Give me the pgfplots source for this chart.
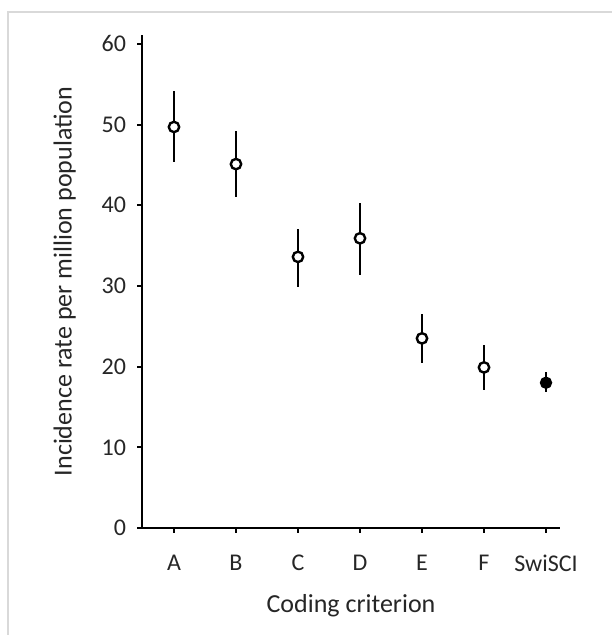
\documentclass[border=0pt]{standalone}
\usepackage{fontspec}
\setmainfont{Carlito}
\usepackage{pgfplots}
\pgfplotsset{compat=1.18}

\begin{document}
\begin{tikzpicture}[x=1pt,y=1pt]
% page frame: 612x635 px at 0.5pt per px
\path[use as bounding box] (0,0) rectangle (306,317.5);
\draw[gray!30, line width=1pt] (4,0) -- (4,311.5) -- (306,311.5);

\begin{axis}[
  at={(71pt,53.5pt)}, anchor=south west,
  scale only axis,
  width=209pt, height=246.5pt,
  xmin=-0.516, xmax=6.226,
  ymin=0, ymax=61.1,
  axis x line*=bottom, axis y line*=left,
  axis line style={line width=1.2pt},
  xtick={0,...,6},
  xticklabels={A,B,C,D,E,F,SwiSCI},
  ytick={0,10,...,60},
  tick align=outside,
  major tick length=2.5pt,
  tick style={line width=1pt, black},
  ticklabel style={font=\fontsize{12}{14}\selectfont, text=black!85},
  xticklabel style={yshift=-7.5pt},
  yticklabel style={xshift=-2pt},
  /pgf/number format/assume math mode=true,
  xlabel={Coding criterion},
  ylabel={Incidence rate per million population},
  label style={font=\fontsize{13}{15}\selectfont, text=black!85},
  xlabel style={yshift=-4.5pt},
  ylabel style={yshift=6pt},
  clip=false,
]

% confidence intervals
\addplot[draw=none, mark=none,
  error bars/.cd, y dir=both, y explicit, error mark=none,
  error bar style={line width=1pt, black}]
  coordinates {
  (0,49.7) += (0,4.4) -= (0,4.4)
  (1,45.1) += (0,4.1) -= (0,4.1)
  (2,33.6) += (0,3.5) -= (0,3.7)
  (3,35.9) += (0,4.4) -= (0,4.5)
  (4,23.5) += (0,3.0) -= (0,3.0)
  (5,19.9) += (0,2.8) -= (0,2.8)
  (6,18.0) += (0,1.3) -= (0,1.2)
};

% coding criteria A-F (open circles)
\addplot[only marks, mark=*, mark size=2.6pt,
  mark options={fill=white, draw=black, line width=1.2pt}]
  coordinates {
  (0,49.7) (1,45.1) (2,33.6) (3,35.9) (4,23.5) (5,19.9)
};

% SwiSCI (filled circle)
\addplot[only marks, mark=*, mark size=2.8pt,
  mark options={fill=black, draw=black, line width=0.6pt}]
  coordinates {(6,18.0)};
\end{axis}
\end{tikzpicture}
\end{document}
